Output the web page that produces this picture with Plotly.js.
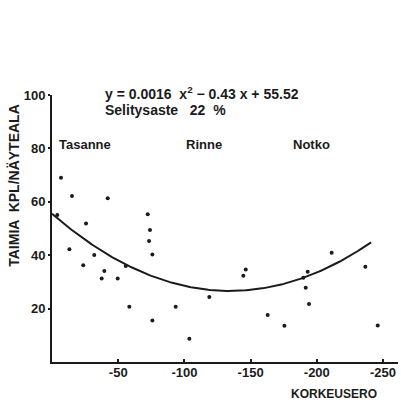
<!DOCTYPE html>
<html>
<head>
<meta charset="utf-8">
<script src="https://cdn.plot.ly/plotly-3.0.1.min.js"></script>
<style>
  html, body { margin: 0; padding: 0; background: #fff; }
  #chart { width: 401px; height: 402px; }
</style>
</head>
<body>
<div id="chart"></div>
<script>
// Height difference (m, negative = below reference) and seedling counts per plot
const korkeusero = [-6.8, -15.1, -42.1, -4.0, -25.7, -72.3, -74.0, -73.3, -13.1, -75.8,
  -31.9, -23.6, -39.5, -37.5, -49.6, -55.7, -58.4, -93.4, -75.8, -103.7,
  -118.8, -144.5, -146.3, -162.9, -175.5, -189.8, -193.1, -191.6, -194.1, -211.2,
  -236.6, -246.0];
const taimia = [69.0, 62.2, 61.3, 55.1, 51.9, 55.3, 49.4, 45.3, 42.2, 40.3,
  40.1, 36.2, 34.1, 31.3, 31.3, 36.0, 20.7, 20.7, 15.5, 8.7,
  24.3, 32.3, 34.6, 17.6, 13.6, 31.6, 33.8, 27.8, 21.7, 40.9,
  35.7, 13.7];

// Quadratic fit y = a x^2 + b x + c, x = height difference in metres (absolute)
const kertoimet = [0.0016, -0.43, 55.52];
const sovitusAlku = 0;
const sovitusLoppu = 241;

const yTicks = [20, 40, 60, 80, 100];
const xTicks = [-50, -100, -150, -200, -250];
const xTickText = ['-50', '-100', '-150', '-200', '-250'];
const alueet = ['Tasanne', 'Rinne', 'Notko'];
const alueX = [-3.8, -99.7, -180.5];

const fitX = [], fitY = [];
for (let h = sovitusAlku; h <= sovitusLoppu; h += 1) {
  fitX.push(-h);
  fitY.push(kertoimet[0] * h * h + kertoimet[1] * h + kertoimet[2]);
}

const ink = '#1b1b1b';
const font = 'Liberation Sans, Arial, sans-serif';
const bold = (size) => ({ family: font, size: size, color: ink, weight: 'bold' });

const traces = [
  {
    x: fitX, y: fitY, type: 'scatter', mode: 'lines',
    line: { color: ink, width: 2 }, hoverinfo: 'skip', cliponaxis: false
  },
  {
    x: korkeusero, y: taimia, type: 'scatter', mode: 'markers',
    marker: { color: ink, size: 4 }, cliponaxis: false
  }
];

const annotations = [
  {
    text: 'y = 0.0016  x<sup>2</sup> − 0.43 x + 55.52',
    x: 0.1474, y: 1.0075, xref: 'paper', yref: 'paper', xanchor: 'left', yanchor: 'middle',
    showarrow: false, font: bold(14)
  },
  {
    text: 'Selitysaste   22  %',
    x: 0.1474, y: 0.944, xref: 'paper', yref: 'paper', xanchor: 'left', yanchor: 'middle',
    showarrow: false, font: bold(14)
  },
  {
    text: 'TAIMIA  KPL/NÄYTEALA',
    x: -0.1098, y: 0.66, xref: 'paper', yref: 'paper', textangle: -90,
    xanchor: 'center', yanchor: 'middle',
    showarrow: false, font: bold(14)
  },
  {
    text: 'KORKEUSERO',
    x: 0.815, y: -0.119, xref: 'paper', yref: 'paper',
    xanchor: 'center', yanchor: 'middle',
    showarrow: false, font: bold(12)
  }
];
alueet.forEach((nimi, i) => {
  annotations.push({
    text: nimi, x: alueX[i], y: 81.3, xref: 'x', yref: 'y',
    xanchor: 'left', yanchor: 'middle', showarrow: false, font: bold(13)
  });
});

const layout = {
  width: 401, height: 402,
  margin: { l: 52, r: 3, t: 95, b: 40 },
  paper_bgcolor: '#fff', plot_bgcolor: '#fff',
  showlegend: false,
  font: { family: font, color: ink },
  xaxis: {
    range: [0, -261.3], showgrid: false, zeroline: false,
    showline: true, linecolor: ink, linewidth: 2,
    tickvals: xTicks, ticktext: xTickText, ticks: 'inside', ticklen: 3,
    tickwidth: 2, tickcolor: ink, ticklabelstandoff: -3,
    tickfont: bold(13)
  },
  yaxis: {
    range: [0, 100], showgrid: false, zeroline: false,
    showline: true, linecolor: ink, linewidth: 2,
    tickvals: yTicks, ticks: 'outside', ticklen: 2, tickwidth: 2, tickcolor: ink,
    tickfont: bold(13)
  },
  annotations: annotations
};

Plotly.newPlot('chart', traces, layout, { displayModeBar: false, staticPlot: true });
</script>
</body>
</html>
